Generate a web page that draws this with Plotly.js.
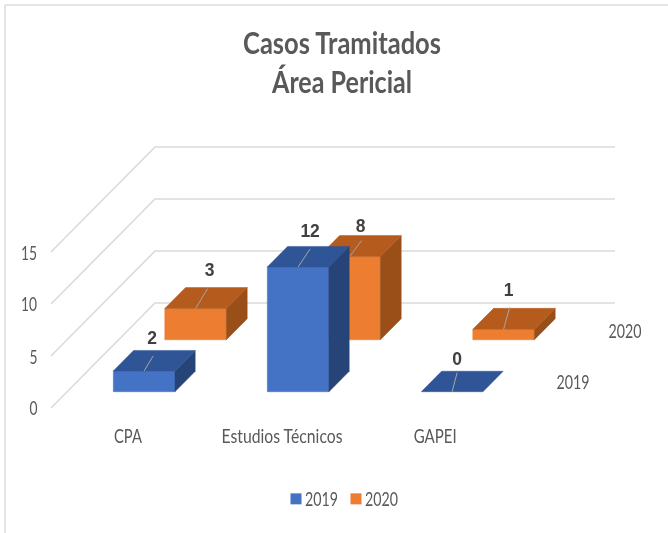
<!DOCTYPE html>
<html><head><meta charset="utf-8">
<script src="https://cdn.plot.ly/plotly-3.0.1.min.js"></script>
<style>html,body{margin:0;padding:0;background:#fff}#c{width:668px;height:533px;filter:blur(0.45px)}</style>
</head><body><div id="c"></div>
<script>
// Data
const categories = ["CPA", "Estudios Técnicos", "GAPEI"];
const seriesNames = ["2019", "2020"];
const values2019 = [2, 12, 0];
const values2020 = [3, 8, 1];
const valueTicks = [0, 5, 10, 15];

// Oblique projection of the 3D chart box (pixels per unit)
const W = 668, H = 533, X0 = 51, Y0 = 408, PXC = 154, PXV = 10.4, DX = 104, DY = 105;
const depthFront = [0.155, 0.65], depthBack = [0.35, 0.85], halfW = 0.2, gridEnd = 2.987;
const px = (c, v, d) => c + DX * d / PXC;
const py = (c, v, d) => v + DY * d / PXV;
const dpx = p => p / PXC, dpy = p => p / PXV;

// Pixel offsets of leader-line ends and data labels from the bar's top front centre
const leaderEnd = [[[9,15],[12,18],[5,19]], [[12,20],[12,16],[6,22]]];
const labelOff  = [[[8,31],[12,34],[5,31]], [[14,37],[11,29],[5,38]]];

const faces = [
  {front: "#4472C4", top: "#2F5597", side: "#264478"},
  {front: "#ED7D31", top: "#B55B1D", side: "#9A4E18"}
];
const textCol = "#595959";
const traces = [];
function poly(pts, color) {
  traces.push({
    type: "scatter", mode: "lines", fill: "toself", fillcolor: color,
    line: {color: color, width: 0.5}, hoverinfo: "skip", showlegend: false,
    x: pts.map(p => px(p[0], p[1], p[2])), y: pts.map(p => py(p[0], p[1], p[2]))
  });
}
function line(pts, color, width) {
  traces.push({
    type: "scatter", mode: "lines", line: {color: color, width: width},
    hoverinfo: "skip", showlegend: false,
    x: pts.map(p => px(p[0], p[1], p[2])), y: pts.map(p => py(p[0], p[1], p[2]))
  });
}
// Gridlines on side wall and back wall
valueTicks.forEach(t => line([[0, t, 0], [0, t, 1], [gridEnd, t, 1]], "#DADADA", 1.6));

function box(s, i, v) {
  const c = i + 0.5, a = c - halfW, b = c + halfW, f = depthFront[s], k = depthBack[s], st = faces[s];
  if (v > 0) {
    poly([[a,0,f],[b,0,f],[b,v,f],[a,v,f],[a,0,f]], st.front);
    poly([[b,0,f],[b,0,k],[b,v,k],[b,v,f],[b,0,f]], st.side);
  }
  poly([[a,v,f],[b,v,f],[b,v,k],[a,v,k],[a,v,f]], st.top);
  const e = leaderEnd[s][i], o = labelOff[s][i];
  const x0 = px(c,v,f), y0 = py(c,v,f);
  traces.push({type:"scatter",mode:"lines",x:[x0, x0+dpx(e[0])],y:[y0, y0+dpy(e[1])],
    line:{color:"#A6A6A6",width:1},hoverinfo:"skip",showlegend:false});
  traces.push({type:"scatter",mode:"text",x:[x0+dpx(o[0])],y:[y0+dpy(o[1])],text:[String(v)],
    textposition:"middle center",textfont:{family:"Liberation Sans",size:17.5,weight:700,color:"#404040"},
    hoverinfo:"skip",showlegend:false});
}
[values2020, values2019].forEach((vals, r) => {
  const s = 1 - r;
  vals.forEach((v, i) => box(s, i, v));
});
// legend entries
seriesNames.forEach((n, s) => traces.push({type:"scatter",mode:"markers",name:n,x:[null],y:[null],
  marker:{symbol:"square",size:11,color:faces[s].front},hoverinfo:"skip"}));

const family = "Lato, 'Liberation Sans', sans-serif";
const font = {family:family,color:textCol,size:19};
const ann = (x,y,text)=>({xref:"paper",yref:"paper",x:x/W,y:1-y/H,text:text,showarrow:false,
   font:font,xanchor:"center",yanchor:"middle"});
const tickX = [33, 33, 29, 29];
const tickY = [407, 356, 303, 252];
const catX = [128, 282, 435];
const annotations = [];
valueTicks.forEach((t,i) => annotations.push(ann(tickX[i], tickY[i], String(t))));
categories.forEach((n,i) => annotations.push(ann(catX[i], 435, n)));
annotations.push(ann(573, 381, seriesNames[0]));
annotations.push(ann(625, 330, seriesNames[1]));

const layout = {
  width: W, height: H, margin: {l:0,r:0,t:0,b:0}, paper_bgcolor:"#fff", plot_bgcolor:"#fff",
  font: font,
  title: {text:"Casos Tramitados<br>Área Pericial", x:342/W, xanchor:"center", y:1-54/H, yanchor:"middle",
    font:{family:family,size:30,weight:700,color:textCol}},
  xaxis:{visible:false, range:[-X0/PXC,(W-X0)/PXC], domain:[0,1], fixedrange:true},
  yaxis:{visible:false, range:[(Y0-H)/PXV, Y0/PXV], domain:[0,1], fixedrange:true},
  showlegend:true,
  legend:{orientation:"h", x:265/W, xanchor:"left", y:1-499/H, yanchor:"middle", font:{family:family,size:19,color:textCol},
    bgcolor:"rgba(0,0,0,0)", traceorder:"normal", entrywidth:15, entrywidthmode:"pixels"},
  annotations: annotations,
  shapes:[
    {type:"line",xref:"paper",yref:"paper",x0:5/W,x1:5/W,y0:0,y1:1-5/H,line:{color:"#DDDDDD",width:1.5}},
    {type:"line",xref:"paper",yref:"paper",x0:5/W,x1:1,y0:1-5/H,y1:1-5/H,line:{color:"#DDDDDD",width:1.5}}
  ]
};
// Target rendered widths of the reference's condensed labels
const textWidth = {"CPA":28,"Estudios Técnicos":121,"GAPEI":43,"2019":33,"2020":33,"15":16,"10":16,"5":8,"0":8,
  "Casos Tramitados":198,"Área Pericial":140};
Plotly.newPlot("c", traces, layout, {displayModeBar:false, staticPlot:true}).then(gd => {
  const fit = el => {
    const w = textWidth[el.textContent];
    if (w) { el.setAttribute("textLength", w); el.setAttribute("lengthAdjust", "spacingAndGlyphs"); }
  };
  gd.querySelectorAll(".annotation-text, .legendtext").forEach(fit);
  gd.querySelectorAll(".gtitle tspan.line").forEach(fit);
  gd.querySelectorAll(".legend .legendsymbols").forEach(n => n.setAttribute("transform", "translate(11,0)"));
  // entrywidth narrows the legend box; let the last label show in full
  gd.querySelectorAll(".legend .scrollbox, .legend .legendtext, .legend .traces").forEach(n => {
    n.removeAttribute("clip-path"); n.style.clipPath = "none";
  });
  gd.querySelectorAll(".legend .legendtoggle").forEach(n => n.setAttribute("pointer-events", "none"));
});
</script></body></html>
